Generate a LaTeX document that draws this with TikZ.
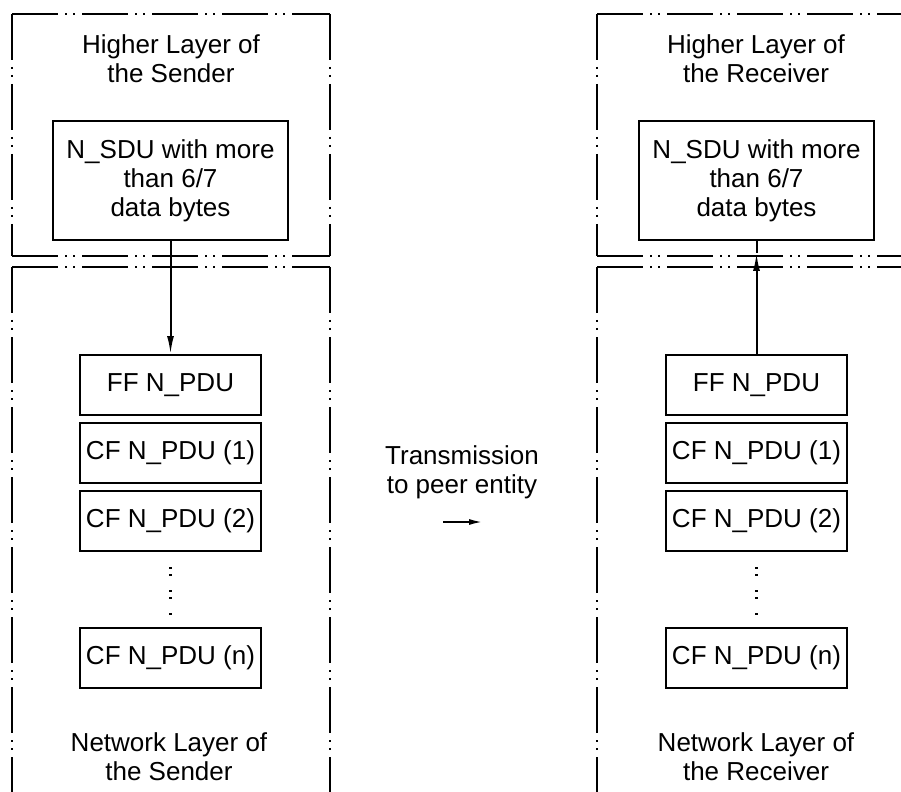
\documentclass[tikz,border=0pt]{standalone}
\usepackage{fontspec}
\setmainfont{Liberation Sans}
\usetikzlibrary{arrows.meta}

\begin{document}
\begin{tikzpicture}[x=0.5pt,y=-0.5pt,line width=1pt,
    font=\fontsize{13}{14.5}\selectfont,
    layer/.style={dash pattern=on 23pt off 3.5pt on 1pt off 3pt on 1pt off 3.5pt},
    pairdots/.style={line width=1.2pt,dash pattern=on 1.2pt off 2.3pt on 1.2pt off 6.8pt},
    pdu/.style={draw,minimum width=90.5pt,minimum height=30pt,inner sep=0pt},
    sdu/.style={draw,minimum width=117.5pt,minimum height=59.5pt,inner sep=0pt,align=center},
    lbl/.style={align=center,inner sep=0pt},
    flow/.style={-{Latex[length=9pt,width=3.5pt]}}]
      \clip (0,0) rectangle (901,792);
      % layer frames, sender and receiver
      \foreach \xa/\xb in {12/330,597/915} {
        \draw[layer] (\xa,14) -- (\xb,14);
        \draw[layer] (\xa,256) -- (\xb,256);
        \draw[layer] (\xa,267) -- (\xb,267);
        \draw[layer] (\xa,14) -- (\xa,256);
        \draw[layer] (\xb,14) -- (\xb,256);
        \draw[layer] (\xa,267) -- (\xa,800);
        \draw[layer] (\xb,267) -- (\xb,800);
      }
      % sender
      \node[lbl] (hlS) at (171,59) {Higher Layer of\\the Sender};
      \node[sdu] (sduS) at (170.5,180.5) {N\_SDU with more\\than 6/7\\data bytes};
      \node[pdu] (ffS) at (170.5,385) {FF N\_PDU};
      \node[pdu] (cf1S) at (170.5,453) {CF N\_PDU (1)};
      \node[pdu] (cf2S) at (170.5,521) {CF N\_PDU (2)};
      \node[pdu] (cfnS) at (170.5,657.5) {CF N\_PDU (n)};
      \node[lbl] (nlS) at (169,757) {Network Layer of\\the Sender};
      \draw[flow] (sduS) -- (ffS);
      \draw[pairdots] ([yshift=-7.5pt]cf2S.south) -- ([yshift=3.5pt]cfnS.north);
      % receiver
      \node[lbl] (hlR) at (756,59) {Higher Layer of\\the Receiver};
      \node[sdu] (sduR) at (756.5,180.5) {N\_SDU with more\\than 6/7\\data bytes};
      \node[pdu] (ffR) at (756.5,385) {FF N\_PDU};
      \node[pdu] (cf1R) at (756.5,453) {CF N\_PDU (1)};
      \node[pdu] (cf2R) at (756.5,521) {CF N\_PDU (2)};
      \node[pdu] (cfnR) at (756.5,657.5) {CF N\_PDU (n)};
      \node[lbl] (nlR) at (756,757) {Network Layer of\\the Receiver};
      \coordinate (headR) at (756.5,253);
      \draw[flow] (ffR) -- (headR);
      \draw (headR) -- (sduR);
      \draw[pairdots] ([yshift=-7.5pt]cf2R.south) -- ([yshift=3.5pt]cfnR.north);
      % transmission
      \node[lbl] (tx) at (462,472) {Transmission\\to peer entity};
      \coordinate (txA) at (443,522);
      \coordinate (txB) at (483,522);
      \draw[-{Latex[length=7pt,width=3pt]}] (txA) -- (txB);
\end{tikzpicture}
\end{document}
